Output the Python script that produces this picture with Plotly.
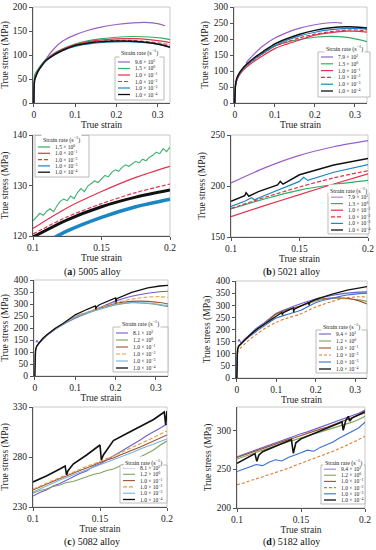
import plotly.graph_objects as go

W, H = 376, 550
FONT = "Liberation Serif"

# ---------------- data ----------------
STRAIN_FULL = [0, 0.002, 0.005, 0.01, 0.02, 0.03, 0.05, 0.07, 0.1, 0.13, 0.16, 0.2, 0.24, 0.28, 0.31, 0.33]
STRAIN_ZOOM = [0.1, 0.125, 0.15, 0.175, 0.2]
STRAIN_FINE = [0.100, 0.105, 0.110, 0.115, 0.120, 0.125, 0.130, 0.135, 0.140, 0.145, 0.150,
               0.155, 0.160, 0.165, 0.170, 0.175, 0.180, 0.185, 0.190, 0.195, 0.200]
STRAIN_QUARTER = [0.1000, 0.1025, 0.1050, 0.1075, 0.1100, 0.1125, 0.1150, 0.1175, 0.1200, 0.1225,
                  0.1250, 0.1275, 0.1300, 0.1325, 0.1350, 0.1375, 0.1400, 0.1425, 0.1450, 0.1475,
                  0.1500, 0.1525, 0.1550, 0.1575, 0.1600, 0.1625, 0.1650, 0.1675, 0.1700, 0.1725,
                  0.1750, 0.1775, 0.1800, 0.1825, 0.1850, 0.1875, 0.1900, 0.1925, 0.1950, 0.1975, 0.2000]

XTICKS_FULL = [0, 0.1, 0.2, 0.3]
XTICKS_FULL_TEXT = ["0", "0.1", "0.2", "0.3"]
XTICKS_ZOOM = [0.1, 0.15, 0.2]
XTICKS_ZOOM_TEXT = ["0.1", "0.15", "0.2"]

RATES_5005 = ["9.6 × 10<sup>2</sup>", "1.5 × 10<sup>0</sup>", "1.0 × 10<sup>−1</sup>",
              "1.0 × 10<sup>−2</sup>", "1.0 × 10<sup>−3</sup>", "1.0 × 10<sup>−4</sup>"]
RATES_5021 = ["7.9 × 10<sup>2</sup>", "1.3 × 10<sup>0</sup>", "1.0 × 10<sup>−1</sup>",
              "1.0 × 10<sup>−2</sup>", "1.0 × 10<sup>−3</sup>", "1.0 × 10<sup>−4</sup>"]
RATES_5082 = ["8.1 × 10<sup>2</sup>", "1.2 × 10<sup>0</sup>", "1.0 × 10<sup>−1</sup>",
              "1.0 × 10<sup>−2</sup>", "1.0 × 10<sup>−3</sup>", "1.0 × 10<sup>−4</sup>"]
RATES_5182 = ["9.4 × 10<sup>2</sup>", "1.2 × 10<sup>0</sup>", "1.0 × 10<sup>−1</sup>",
              "1.0 × 10<sup>−2</sup>", "1.0 × 10<sup>−3</sup>", "1.0 × 10<sup>−4</sup>"]

# ---- 5005 alloy ----
A_HI_X = [0.028, 0.03, 0.05, 0.07, 0.1, 0.13, 0.16, 0.2, 0.24, 0.27, 0.3, 0.318]
A_HI_Y = [88, 92, 114, 129, 142, 151, 157.5, 163.5, 167, 168, 165.5, 161]
A_R0 = [0, 58, 64, 70, 82, 91, 104, 113, 123, 129.5, 133.5, 137, 138.5, 137.5, 135, 132]
A_R1 = [0, 50, 58, 67, 80, 90, 103, 112, 121.5, 127.5, 131, 133.7, 134, 132, 129, 126]
A_R2 = [0, 48, 56, 66, 79, 89, 102, 111, 120.3, 125.5, 128.5, 130.3, 130, 127.5, 124, 121]
A_R3 = [0, 47, 55, 65, 78, 88, 100, 109, 118, 122.5, 125.5, 127.3, 127.5, 125, 121, 117]
A_R4 = [0, 48, 56, 66, 79, 89, 101, 110, 119.8, 124.5, 127.5, 129, 128.5, 125.5, 121, 116]
AZ_R0 = [123.0, 123.8, 124.5, 124.1, 124.9, 125.4, 124.8, 126.0, 126.9, 127.3,
         127.0, 127.9, 127.4, 128.6, 129.4, 128.8, 129.9, 130.4, 130.9, 130.6,
         131.3, 132.0, 131.7, 132.6, 133.1, 132.8, 133.6, 134.1, 133.8, 134.3,
         134.8, 134.5, 135.2, 134.9, 135.6, 136.0, 136.6, 136.3, 137.3, 136.7, 137.6]
AZ_R1 = [121.5, 125.6, 128.8, 131.6, 133.8]
AZ_R2 = [120.4, 123.8, 126.4, 128.6, 130.3]
AZ_R3 = [117.3, 121.0, 123.7, 125.8, 127.3]
AZ_R4 = [119.8, 123.2, 125.8, 127.7, 129.1]

# ---- 5021 alloy ----
B_HI_X = [0.028, 0.03, 0.05, 0.07, 0.1, 0.13, 0.16, 0.2, 0.23, 0.25, 0.268]
B_HI_Y = [124, 128, 155, 178, 203, 220, 233, 244.5, 250, 251.5, 249.5]
B_R0 = [0, 55, 72, 88, 105, 118, 138, 155, 177.5, 190, 198, 205.5, 208, 205, 198, 192]
B_R1 = [0, 55, 70, 84, 101, 113, 132, 148, 170, 184, 196, 212, 220, 224.5, 224, 221]
B_R2 = [0, 56, 72, 86, 104, 117, 137, 154, 178, 191, 203, 215, 223, 228, 228, 225]
B_R3 = [0, 58, 74, 88, 106, 119, 139, 156, 180, 196, 209, 221, 229, 233, 233, 230]
B_R4 = [0, 60, 77, 91, 109, 122, 143, 160, 185, 201, 214, 227, 235, 238, 237, 234]
BZ_HI = [203, 218, 230, 238.5, 244.5]
BZ_R0 = [177.5, 187.5, 196, 201.5, 205.5]
BZ_R1 = [170, 181, 191.5, 202, 212]
BZ_R2 = [178, 189, 199, 208, 215]
BZ_R3_X = [0.1, 0.11, 0.115, 0.117, 0.125, 0.15, 0.153, 0.156, 0.175, 0.2]
BZ_R3_Y = [180, 185, 188.5, 186.5, 191, 204.5, 208.5, 205.5, 213.5, 221]
BZ_R4_X = [0.1, 0.105, 0.11, 0.111, 0.113, 0.12, 0.13, 0.134, 0.136, 0.138, 0.15, 0.16, 0.175, 0.2]
BZ_R4_Y = [185, 188, 190.5, 193.5, 190, 194.5, 199.5, 201, 204.5, 201.8, 211, 215, 220.5, 227]

# ---- 5082 alloy ----
C_HI_X = [0.003, 0.005, 0.01, 0.02, 0.03, 0.05, 0.07, 0.1, 0.13, 0.16, 0.2, 0.24, 0.28, 0.31, 0.33]
C_HI_Y = [140, 148, 138, 152, 168, 194, 215, 241, 262, 284, 312, 332, 345, 351, 353]
C_R0 = [0, 105, 122, 135, 155, 170, 196, 216, 244, 262, 278, 296, 305, 302, 295, 289]
C_R1 = [0, 108, 124, 136, 156, 171, 197, 217, 247, 265, 281, 302, 311, 311, 306, 300]
C_R2 = [0, 108, 124, 136, 156, 171, 197, 217, 248, 266, 283, 306, 320, 329, 330, 328]
C_R3 = [0, 106, 123, 135, 155, 170, 196, 216, 245, 263, 279, 298, 306, 304, 298, 293]
C_R4_X = [0, 0.002, 0.005, 0.01, 0.02, 0.03, 0.05, 0.07, 0.1, 0.13, 0.15, 0.151, 0.153,
          0.16, 0.2, 0.201, 0.203, 0.24, 0.28, 0.31, 0.33]
C_R4_Y = [0, 110, 126, 137, 157, 172, 198, 219, 255, 278, 292, 278, 288,
          297, 325, 306, 322, 348, 367, 375, 378]
CZ_HI = [241, 244.5, 247, 251, 253.5, 257, 260, 263.5, 266, 270.5, 273,
         277, 281, 284.5, 289, 293, 297, 301.5, 305, 309, 313]
CZ_R0 = [244, 246.5, 248, 250.5, 252, 254.5, 255.5, 258, 260, 262.5, 264,
         266.5, 268, 271, 273.5, 277, 280, 283.5, 287, 292, 296]
CZ_R1 = [247, 250, 253, 256, 258.5, 261, 264, 266.5, 269, 272, 274.5,
         277, 279, 282, 284.5, 287, 290, 293, 296, 299, 302]
CZ_R2 = [248, 251, 254, 257, 259.5, 262, 265, 268, 270.5, 273, 276,
         278.5, 281, 284, 287, 290, 293, 296, 299.5, 303, 306]
CZ_R3 = [245, 248, 251.5, 254, 257, 259.5, 262, 265, 267.5, 270, 272.5,
         275, 277.5, 280, 282.5, 285, 288, 290.5, 293, 295.5, 298]
CZ_R4_X = [0.1, 0.11, 0.12, 0.124, 0.125, 0.126, 0.13, 0.14, 0.15, 0.151, 0.1525,
           0.16, 0.17, 0.18, 0.19, 0.198, 0.199, 0.2]
CZ_R4_Y = [255, 261, 268, 271, 262, 266, 273, 282, 292, 277, 282,
           296.5, 303.5, 310.5, 317.5, 325, 312, 326]

# ---- 5182 alloy ----
D_HI_X = [0.003, 0.006, 0.01, 0.02, 0.03, 0.05, 0.07, 0.1, 0.13, 0.16, 0.2, 0.24, 0.28, 0.31, 0.33]
D_HI_Y = [150, 160, 145, 160, 175, 205, 228, 266, 287, 305, 326, 340, 350, 354, 355]
D_R0 = [0, 120, 135, 140, 158, 172, 200, 222, 263, 280, 294, 318, 328, 327, 322, 316]
D_R1 = [0, 118, 133, 140, 158, 172, 200, 222, 265, 282, 297, 322, 330, 329, 318, 305]
D_R2 = [0, 100, 115, 125, 140, 155, 180, 203, 230, 248, 263, 292.5, 315, 331, 335, 334]
D_R3 = [0, 115, 130, 138, 155, 168, 193, 215, 247, 263, 278, 310.5, 328, 342, 348, 350]
D_R4_X = [0, 0.002, 0.005, 0.01, 0.02, 0.03, 0.05, 0.07, 0.1, 0.114, 0.1155, 0.117, 0.13,
          0.143, 0.144, 0.146, 0.16, 0.182, 0.183, 0.185, 0.2, 0.24, 0.28, 0.31, 0.33]
D_R4_Y = [0, 118, 132, 140, 158, 172, 200, 222, 257, 270, 260, 268, 279,
          289, 271, 284, 295.5, 311, 300, 313, 324, 345, 362, 372, 377]
DZ_HI = [266, 269, 272.5, 275, 278.5, 281, 284, 287, 290, 292.5, 295.5,
         298, 301, 304, 306.5, 309.5, 312, 315.5, 318.5, 322, 326]
DZ_R0 = [263, 266, 269, 272, 274.5, 277, 280, 282.5, 285, 287.5, 290,
         292.5, 295, 297.5, 300, 302.5, 305, 307.5, 310.5, 314, 318]
DZ_R1 = [265, 268, 271, 274, 277, 279.5, 282.5, 285, 288, 290.5, 293.5,
         296, 299, 301.5, 304, 307, 309.5, 312.5, 315.5, 319, 322.5]
DZ_R2 = [230, 232, 235, 237, 240, 243, 245.5, 248.5, 251, 254.5, 257.5,
         260, 263, 266.5, 269.5, 273, 276.5, 280, 284, 288, 292.5]
DZ_R3 = [247, 250, 252, 256, 254.5, 259, 262, 260.5, 265, 267.5, 271,
         274.5, 273, 278, 281, 285, 290, 294, 298, 303, 310.5]
DZ_R4_X = [0.1, 0.105, 0.11, 0.114, 0.1155, 0.117, 0.12, 0.13, 0.14, 0.1425, 0.144, 0.146,
           0.15, 0.16, 0.17, 0.18, 0.182, 0.183, 0.185, 0.187, 0.188, 0.19, 0.2]
DZ_R4_Y = [257.4, 262, 266.5, 270, 260, 268, 272.5, 279, 286, 288, 270.5, 284,
           289, 295.5, 302, 309.5, 311, 300, 313, 318, 312, 316, 324]

CAPTIONS = ["(<b>a</b>) 5005 alloy", "(<b>b</b>) 5021 alloy", "(<b>c</b>) 5082 alloy", "(<b>d</b>) 5182 alloy"]

# ---------------- styles ----------------
STY_AB = [("#9b5fc8", None, 1.2), ("#2fb062", None, 1.2), ("#e3304b", None, 1.2),
          ("#e3304b", "4px,2px", 1.2), ("#1b86c4", None, 1.2), ("#111111", None, 1.5)]
STY_C = [("#6a5fd0", None, 1.1), ("#7fa35a", None, 1.1), ("#a0522d", None, 1.1),
         ("#e59a3a", "4px,2px", 1.1), ("#7ab0e0", None, 1.1), ("#111111", None, 1.3)]
STY_D = [("#6a5fd0", None, 1.1), ("#7fa35a", None, 1.1), ("#a0522d", None, 1.1),
         ("#e07a2a", "3px,2px", 1.1), ("#3b6fd0", None, 1.1), ("#111111", None, 1.3)]

# panel pixel boxes: x0, x1, y0(top), y1(bottom)
BOXES = [(33, 170, 7, 103), (33, 170, 135, 236), (234, 367, 7, 103), (231, 368, 135, 237),
         (34, 168, 280, 376), (33, 167, 407, 507), (236, 367, 281, 378), (237, 365, 407, 508)]
XRANGES = [[-0.002, 0.33], [0.1, 0.2]] * 4
YRANGES = [[0, 200], [120, 140], [0, 300], [150, 250], [0, 400], [230, 330], [0, 400], [200, 330]]
YTICKS = [[0, 50, 100, 150, 200], [120, 130, 140], [0, 50, 100, 150, 200, 250, 300], [150, 200, 250],
          [0, 50, 100, 150, 200, 250, 300, 350, 400], [230, 280, 330],
          [0, 50, 100, 150, 200, 250, 300, 350, 400], [200, 250, 300]]

# legend layout: x0, x1, box_top, box_bottom, title_y, first_entry_y, step
LEG = [(115, 164, 57, 100, 53, 62, 6.5), (35, 89, 135.5, 177, 140, 147, 6.3),
       (318, 370, 52, 97, 48, 57, 6.8), (328, 369, 193, 234, 190, 197, 6.6),
       (113, 168, 327, 372, 323, 333, 7.0), (120, 167, 465, 503, 462, 468, 6.3),
       (316, 367, 330, 373, 326, 334, 7.0), (321, 365, 465, 504, 462, 469, 6.2)]

def s(x, y, sty, width=None, smooth=True):
    c, d, w = sty
    return dict(x=x, y=y, color=c, dash=d, width=width or w, smooth=smooth)

PANELS = [
    [s(A_HI_X, A_HI_Y, STY_AB[0]), s(STRAIN_FULL, A_R0, STY_AB[1]), s(STRAIN_FULL, A_R1, STY_AB[2]),
     s(STRAIN_FULL, A_R2, STY_AB[3]), s(STRAIN_FULL, A_R3, STY_AB[4]), s(STRAIN_FULL, A_R4, STY_AB[5])],
    [s(STRAIN_QUARTER, AZ_R0, ("#3cb36e", None, 1.1), smooth=False), s(STRAIN_ZOOM, AZ_R1, STY_AB[2]),
     s(STRAIN_ZOOM, AZ_R2, STY_AB[3]), s(STRAIN_ZOOM, AZ_R3, STY_AB[4], width=3.5),
     s(STRAIN_ZOOM, AZ_R4, STY_AB[5], width=3.0)],
    [s(B_HI_X, B_HI_Y, STY_AB[0]), s(STRAIN_FULL, B_R0, STY_AB[1]), s(STRAIN_FULL, B_R1, STY_AB[2]),
     s(STRAIN_FULL, B_R2, STY_AB[3]), s(STRAIN_FULL, B_R3, STY_AB[4]), s(STRAIN_FULL, B_R4, STY_AB[5])],
    [s(STRAIN_ZOOM, BZ_HI, STY_AB[0]), s(STRAIN_ZOOM, BZ_R0, STY_AB[1]), s(STRAIN_ZOOM, BZ_R1, STY_AB[2]),
     s(STRAIN_ZOOM, BZ_R2, STY_AB[3]), s(BZ_R3_X, BZ_R3_Y, STY_AB[4], smooth=False),
     s(BZ_R4_X, BZ_R4_Y, STY_AB[5], smooth=False)],
    [s(C_HI_X, C_HI_Y, STY_C[0]), s(STRAIN_FULL, C_R0, STY_C[1]), s(STRAIN_FULL, C_R1, STY_C[2]),
     s(STRAIN_FULL, C_R2, STY_C[3]), s(STRAIN_FULL, C_R3, STY_C[4]), s(C_R4_X, C_R4_Y, STY_C[5], smooth=False)],
    [s(STRAIN_FINE, CZ_HI, STY_C[0], smooth=False), s(STRAIN_FINE, CZ_R0, STY_C[1], smooth=False),
     s(STRAIN_FINE, CZ_R1, STY_C[2], smooth=False), s(STRAIN_FINE, CZ_R2, STY_C[3], smooth=False),
     s(STRAIN_FINE, CZ_R3, STY_C[4], smooth=False), s(CZ_R4_X, CZ_R4_Y, STY_C[5], width=1.6, smooth=False)],
    [s(D_HI_X, D_HI_Y, STY_D[0]), s(STRAIN_FULL, D_R0, STY_D[1]), s(STRAIN_FULL, D_R1, STY_D[2]),
     s(STRAIN_FULL, D_R2, STY_D[3]), s(STRAIN_FULL, D_R3, STY_D[4]), s(D_R4_X, D_R4_Y, STY_D[5], smooth=False)],
    [s(STRAIN_FINE, DZ_HI, STY_D[0], smooth=False), s(STRAIN_FINE, DZ_R0, STY_D[1], smooth=False),
     s(STRAIN_FINE, DZ_R1, STY_D[2], smooth=False), s(STRAIN_FINE, DZ_R2, STY_D[3], smooth=False),
     s(STRAIN_FINE, DZ_R3, STY_D[4], smooth=False), s(DZ_R4_X, DZ_R4_Y, STY_D[5], width=1.6, smooth=False)],
]
LEG_LABELS = [RATES_5005, RATES_5005[1:], RATES_5021, RATES_5021, RATES_5082, RATES_5082, RATES_5182, RATES_5182]
LEG_STYLES = [STY_AB, STY_AB[1:], STY_AB, STY_AB, STY_C, STY_C, STY_D, STY_D]

fig = go.Figure()
layout = dict(width=W, height=H, margin=dict(l=0, r=0, t=0, b=0, autoexpand=False),
              paper_bgcolor="white", template="none",
              plot_bgcolor="white", showlegend=False, font=dict(family=FONT, color="#222", size=9))
shapes, annos = [], []

def px(x):
    return x / W

def py(y):
    return 1 - y / H

for i, (box, series) in enumerate(zip(BOXES, PANELS)):
    n = "" if i == 0 else str(i + 1)
    x0, x1, y0, y1 = box
    zoom = (i % 2 == 1)
    layout["xaxis" + n] = dict(
        domain=[px(x0), px(x1)], anchor="y" + n, range=XRANGES[i], automargin=False,
        tickvals=XTICKS_ZOOM if zoom else XTICKS_FULL,
        ticktext=XTICKS_ZOOM_TEXT if zoom else XTICKS_FULL_TEXT,
        showline=True, linecolor="#555", linewidth=1, ticks="outside", ticklen=3, tickcolor="#555",
        showgrid=False, zeroline=False, tickfont=dict(size=9.5, family=FONT, color="#222"),
        title=dict(text="True strain", font=dict(size=9.5, family=FONT, color="#222"), standoff=0))
    layout["yaxis" + n] = dict(
        domain=[py(y1), py(y0)], anchor="x" + n, range=YRANGES[i], tickvals=YTICKS[i], automargin=False,
        showline=True, linecolor="#555", linewidth=1, ticks="outside", ticklen=3, tickcolor="#555",
        showgrid=False, zeroline=False, tickfont=dict(size=9.5, family=FONT, color="#222"),
        title=dict(text="True stress (MPa)", font=dict(size=9.5, family=FONT, color="#222"), standoff=3))
    shapes.append(dict(type="rect", xref="x" + n + " domain", yref="y" + n + " domain",
                       x0=0, x1=1, y0=0, y1=1, line=dict(color="#bbbbbb", width=0.8), layer="below"))
    for sr in series:
        fig.add_trace(go.Scatter(
            x=sr["x"], y=sr["y"], mode="lines", xaxis="x" + n, yaxis="y" + n,
            line=dict(color=sr["color"], width=sr["width"], dash=sr["dash"] or "solid",
                      shape="spline" if sr["smooth"] else "linear", smoothing=0.8),
            connectgaps=False, hoverinfo="skip"))

    # legend (drawn from label / style lists)
    lx0, lx1, lt, lb, ty, e0, dy = LEG[i]
    shapes.append(dict(type="rect", xref="paper", yref="paper", x0=px(lx0), x1=px(lx1),
                       y0=py(lb), y1=py(lt), line=dict(color="#aaaaaa", width=0.8),
                       fillcolor="white", layer="above"))
    annos.append(dict(xref="paper", yref="paper", x=px((lx0 + lx1) / 2), y=py(ty),
                      text="Strain rate (s<sup>−1</sup>)", showarrow=False, xanchor="center",
                      yanchor="middle", font=dict(size=6, family=FONT, color="#222"),
                      bgcolor="white"))
    for k, (lab, sty) in enumerate(zip(LEG_LABELS[i], LEG_STYLES[i])):
        ey = e0 + k * dy
        c, d, w = sty
        shapes.append(dict(type="line", xref="paper", yref="paper", x0=px(lx0 + 3), x1=px(lx0 + 15),
                           y0=py(ey), y1=py(ey), line=dict(color=c, width=min(w, 1.3), dash=d or "solid"),
                           layer="above"))
        annos.append(dict(xref="paper", yref="paper", x=px(lx0 + 18), y=py(ey), text=lab,
                          showarrow=False, xanchor="left", yanchor="middle",
                          font=dict(size=5.5, family=FONT, color="#222")))

CAP_POS = [(92, 272), (291, 272), (92, 542), (291, 542)]
for cap, (cx, cy) in zip(CAPTIONS, CAP_POS):
    annos.append(dict(xref="paper", yref="paper", x=px(cx), y=py(cy), text=cap, showarrow=False,
                      xanchor="center", yanchor="middle", font=dict(size=10, family=FONT, color="#111")))

layout["shapes"] = shapes
layout["annotations"] = annos
fig.update_layout(**layout)
fig.write_html("out.html", config={"displayModeBar": False, "staticPlot": True},
               post_script="document.body.style.margin='0px';document.body.style.overflow='hidden';")
